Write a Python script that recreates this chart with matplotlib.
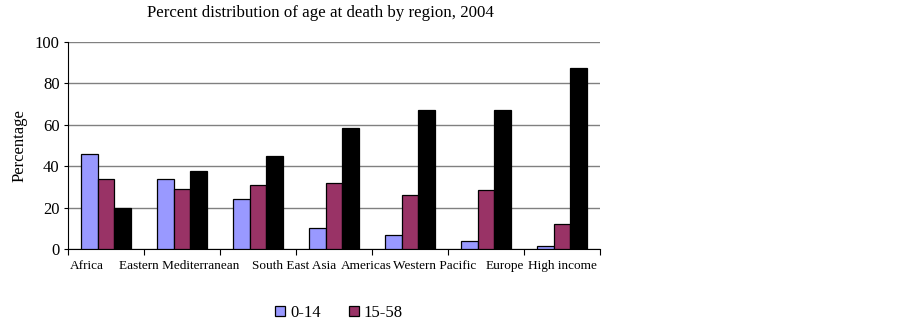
"""
Percent distribution of age at death by region, 2004
Grouped bar chart, three age bands per region.
"""
import numpy as np
import matplotlib
matplotlib.use('Agg')
import matplotlib.pyplot as plt
from matplotlib.patches import Patch

plt.rcParams['font.family'] = ['Liberation Serif', 'DejaVu Serif']

# data
regions = ['Africa', 'Eastern Mediterranean', 'South East Asia', 'Americas',
           'Western Pacific', 'Europe', 'High income']
age_0_14 = [46, 34, 24, 10, 7, 4, 1.5]
age_15_58 = [34, 29, 31, 32, 26, 28.5, 12]
age_60_plus = [20, 37.5, 45, 58.5, 67, 67, 87.5]
series_labels = ['0-14', '15-58']
yticks = [0, 20, 40, 60, 80, 100]

# label nudges so the crowded names sit as in the original
label_shift = [-0.25, -0.04, 0.47, 0.43, 0.33, 0.25, 0.0]

colors = ['#9999FF', '#993366', '#000000']

fig = plt.figure(figsize=(9.02, 3.24), dpi=100)
ax = fig.add_axes([68/902, 1 - 249/324, 532/902, 207/324])

x = np.arange(len(regions))
w = 0.22
for k, vals in enumerate([age_0_14, age_15_58, age_60_plus]):
    ax.bar(x + (k - 1)*w, vals, w, color=colors[k], edgecolor='black',
           linewidth=0.9, zorder=3)

ax.set_xlim(-0.5, len(regions) - 0.5)
ax.set_ylim(0, 100)
ax.set_yticks(yticks)
ax.tick_params(axis='y', labelsize=12, length=3, width=0.8, pad=3)
ax.yaxis.grid(True, color='#808080', linewidth=1.0, zorder=0)
ax.set_axisbelow(True)

# category boundaries get the tick marks, names drawn as text
ax.set_xticks(np.arange(len(regions) + 1) - 0.5)
ax.set_xticklabels([])
ax.tick_params(axis='x', length=4, width=0.8, direction='out')
for i, name in enumerate(regions):
    ax.text(i + label_shift[i], -5.5, name, ha='center', va='top', fontsize=9.5,
            transform=ax.transData)

for s in ['top', 'right']:
    ax.spines[s].set_visible(False)
ax.spines['left'].set_linewidth(0.8)
ax.spines['bottom'].set_linewidth(0.8)

ax.set_ylabel('Percentage', fontsize=12, labelpad=5)

fig.text(320/902, 1 - 13/324, 'Percent distribution of age at death by region, 2004',
         ha='center', va='center', fontsize=12.2)

handles = [Patch(facecolor=colors[k], edgecolor='black', linewidth=0.9)
           for k in range(2)]
fig.legend(handles, series_labels, loc='center', bbox_to_anchor=(339/902, 1 - 313/324),
           ncol=2, frameon=False, fontsize=12, handlelength=0.6, handleheight=0.6,
           handletextpad=0.3, columnspacing=1.65)

fig.savefig('out.png', dpi=100)
